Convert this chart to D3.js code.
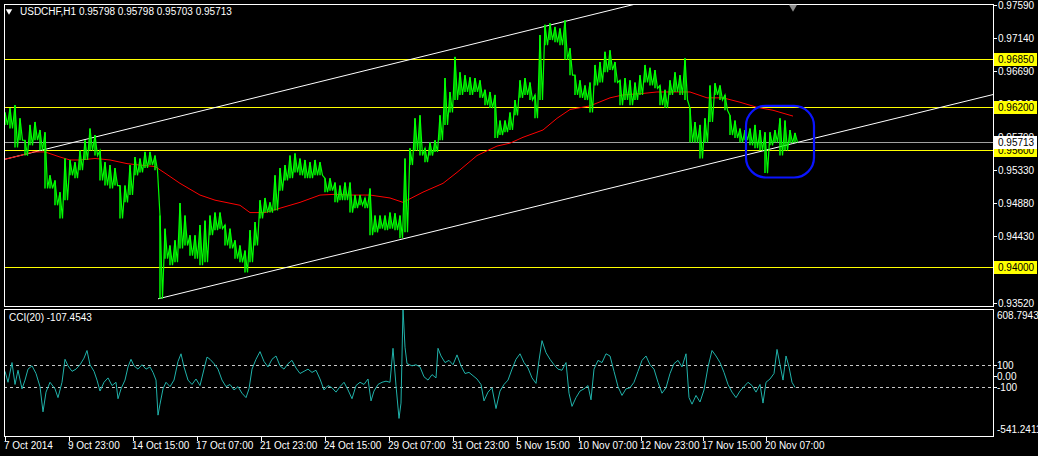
<!DOCTYPE html>
<html><head><meta charset="utf-8">
<script src="https://cdn.jsdelivr.net/npm/d3@7/dist/d3.min.js"></script>
<style>html,body{margin:0;padding:0;background:#000;}svg{display:block;}</style>
</head><body>
<script>
// ---------- data ----------
const symbolTitle = "USDCHF,H1  0.95798 0.95798 0.95703 0.95713";
const cciTitle = "CCI(20) -107.4543";
// price samples (every 5 hourly bars): bar index, high, low
const priceBars = d3.range(0, 795, 5);
const priceHigh = [0.9612,0.9618,0.9622,0.9604,0.9574,0.9595,0.9599,0.9588,0.9585,0.9526,
0.9519,0.9503,0.9549,0.9547,0.9544,0.9560,0.9574,0.9590,0.9581,0.9560,
0.9544,0.9540,0.9536,0.9512,0.9512,0.9540,0.9551,0.9549,0.9558,0.9558,
0.9553,0.9471,0.9453,0.9430,0.9437,0.9488,0.9471,0.9444,0.9444,0.9458,
0.9464,0.9471,0.9475,0.9475,0.9458,0.9453,0.9437,0.9430,0.9423,0.9451,
0.9462,0.9492,0.9495,0.9489,0.9526,0.9536,0.9540,0.9553,0.9556,0.9549,
0.9547,0.9544,0.9547,0.9544,0.9522,0.9522,0.9516,0.9512,0.9516,0.9516,
0.9499,0.9499,0.9495,0.9508,0.9471,0.9471,0.9471,0.9475,0.9474,0.9471,
0.9549,0.9563,0.9604,0.9608,0.9563,0.9571,0.9574,0.9608,0.9659,0.9640,
0.9688,0.9667,0.9663,0.9660,0.9659,0.9656,0.9643,0.9640,0.9636,0.9601,
0.9601,0.9612,0.9629,0.9656,0.9659,0.9653,0.9636,0.9718,0.9732,0.9734,
0.9729,0.9727,0.9738,0.9700,0.9663,0.9656,0.9649,0.9653,0.9677,0.9681,
0.9695,0.9697,0.9681,0.9656,0.9659,0.9656,0.9653,0.9663,0.9677,0.9673,
0.9670,0.9649,0.9643,0.9656,0.9667,0.9663,0.9686,0.9618,0.9599,0.9595,
0.9604,0.9649,0.9652,0.9649,0.9636,0.9608,0.9601,0.9590,0.9588,0.9590,
0.9595,0.9588,0.9585,0.9585,0.9588,0.9604,0.9601,0.9588,0.9584];
const priceLow = [0.9595,0.9590,0.9564,0.9574,0.9553,0.9567,0.9574,0.9560,0.9508,0.9508,
0.9485,0.9467,0.9492,0.9526,0.9522,0.9533,0.9547,0.9560,0.9553,0.9519,
0.9512,0.9508,0.9512,0.9467,0.9489,0.9499,0.9526,0.9530,0.9536,0.9540,
0.9533,0.9357,0.9412,0.9403,0.9407,0.9426,0.9430,0.9416,0.9412,0.9403,
0.9407,0.9444,0.9451,0.9453,0.9430,0.9426,0.9412,0.9407,0.9393,0.9407,
0.9430,0.9467,0.9475,0.9475,0.9478,0.9505,0.9519,0.9522,0.9530,0.9526,
0.9522,0.9522,0.9526,0.9526,0.9503,0.9505,0.9489,0.9492,0.9492,0.9475,
0.9481,0.9485,0.9481,0.9444,0.9448,0.9453,0.9451,0.9453,0.9451,0.9440,
0.9448,0.9540,0.9560,0.9553,0.9544,0.9553,0.9558,0.9574,0.9595,0.9612,
0.9629,0.9636,0.9640,0.9636,0.9640,0.9632,0.9622,0.9618,0.9577,0.9581,
0.9585,0.9588,0.9608,0.9632,0.9636,0.9629,0.9604,0.9629,0.9704,0.9711,
0.9708,0.9704,0.9684,0.9663,0.9636,0.9632,0.9629,0.9612,0.9649,0.9653,
0.9667,0.9670,0.9653,0.9622,0.9629,0.9622,0.9629,0.9636,0.9653,0.9649,
0.9645,0.9622,0.9618,0.9636,0.9640,0.9636,0.9629,0.9571,0.9571,0.9549,
0.9571,0.9599,0.9636,0.9629,0.9615,0.9581,0.9577,0.9571,0.9574,0.9567,
0.9563,0.9560,0.9529,0.9567,0.9571,0.9553,0.9560,0.9570,0.9571];
// moving average (red)
const maBars = [0,15,28,40,55,65,75,90,105,122,135,150,160,175,195,210,235,245,260,275,295,315,330,345,365,385,398,418,438,452,472,492,505,518,538,552,565,585,605,618,638,652,672,685,702,718,735,752,768,788];
const maValues = [0.9548,0.9553,0.9558,0.9558,0.9551,0.9547,0.9547,0.9549,0.9547,0.9542,0.9540,0.9538,0.9529,0.9515,0.9499,0.9492,0.9485,0.9475,0.9475,0.9481,0.9489,0.9499,0.9500,0.9499,0.9499,0.9495,0.9489,0.9503,0.9515,0.9530,0.9553,0.9566,0.9570,0.9578,0.9588,0.9604,0.9616,0.9621,0.9632,0.9636,0.9638,0.9640,0.9640,0.9640,0.9632,0.9632,0.9626,0.9619,0.9615,0.9607];
// horizontal levels
const levelPrices = [0.9685, 0.9620, 0.9560, 0.9400];
const lastPrice = 0.95713;
// channel lines (bar, price anchors)
const upperBars = [0, 395];
const upperPrices = [0.9548, 0.9681];
const lowerBars = [153, 395];
const lowerPrices = [0.9357, 0.9438];
// highlighted zone (blue rounded box)
const zoneBars = [741, 809];
const zonePrices = [0.9621, 0.9523];
// price axis ticks
const priceTicks = [0.9759, 0.9714, 0.9669, 0.9624, 0.9579, 0.9533, 0.9488, 0.9443, 0.9397, 0.9352];
// CCI(20)
const cciBars = [0,3,7,10,13,17,20,23,27,31,35,38,41,45,50,53,57,60,63,67,71,75,79,82,85,89,92,95,99,103,107,111,113,116,120,123,126,129,133,137,141,145,148,151,153,155,158,161,165,169,173,176,179,183,187,191,195,199,202,205,209,213,217,221,225,229,233,237,241,244,247,251,255,259,263,267,271,275,279,283,287,291,295,299,303,307,311,315,319,323,327,331,335,339,343,347,351,355,359,363,366,369,373,377,381,385,388,391,394,396,398,400,402,407,411,415,419,423,427,431,433,436,440,444,448,452,456,460,464,468,472,476,479,483,487,491,495,499,503,507,511,515,519,523,527,531,534,537,541,545,549,553,557,561,564,567,571,575,579,583,586,589,593,597,601,605,609,613,617,621,625,629,633,637,641,645,649,653,657,661,665,669,673,677,681,684,687,691,695,699,703,707,711,715,719,723,727,731,735,739,743,747,751,755,758,761,765,769,772,775,778,781,784,787,790];
const cciValues = [40,-60,120,-80,50,-120,-40,60,90,20,-100,-330,-150,-60,-120,-200,-60,150,90,40,60,100,160,230,100,40,-40,-140,-60,-20,-90,-60,-210,-120,-40,80,150,90,60,100,60,80,30,-40,-360,-260,-120,-60,-100,-40,130,200,80,-40,-80,-30,-90,60,170,150,110,60,-40,-100,-80,-130,-100,-160,-200,-120,60,150,220,130,80,150,180,90,60,110,140,70,20,40,60,30,50,-30,-130,-90,-110,-150,-100,-60,-130,-210,-90,-60,-80,-30,-230,-140,-80,-60,-50,-60,250,-90,-390,-250,608.79,260,110,90,100,80,-10,-40,10,-20,250,180,120,140,100,190,90,20,30,0,-30,-80,-230,-150,-110,-300,-140,-80,-40,60,150,200,120,70,-20,-70,140,320,210,150,100,60,50,120,-160,-280,-200,-140,-120,-90,-220,60,140,120,200,180,40,-100,-180,-120,-110,-60,40,140,180,100,60,-60,-160,-110,20,110,140,80,200,-200,-260,-180,-240,-130,80,230,180,120,30,-80,-150,-200,-140,-100,-60,-90,-150,-80,-250,-60,-30,20,240,100,-40,180,80,-60,-107.45];
const cciLevels = [100, -100];
const cciTicks = [608.7943, 100, 0, -100, -541.2411];
// time axis
const timeTickBars = [0, 64, 128, 192, 256, 320, 384, 448, 512, 574, 636, 698, 761];
const timeTickLabels = ["7 Oct 2014","9 Oct 23:00","14 Oct 15:00","17 Oct 07:00","21 Oct 23:00","24 Oct 15:00","29 Oct 07:00","31 Oct 23:00","5 Nov 15:00","10 Nov 07:00","12 Nov 23:00","17 Nov 15:00","20 Nov 07:00"];

// ---------- layout ----------
const W = 1038, H = 456;
const L = 4, R = 993, mainTop = 4, mainBottom = 306, cciTop = 309, cciBottom = 436;
const FONT = "'Liberation Sans', Arial, sans-serif";

const svg = d3.select("body").append("svg").attr("width", W).attr("height", H)
  .style("background", "#000").style("font-family", FONT).style("font-size", "10px");

const x = d3.scaleLinear().domain([0, 988]).range([5, 993]);
const y = d3.scaleLinear().domain([0.9352, 0.9759]).range([302.5, 5]);
const yc = d3.scaleLinear().domain([-541.2411, 608.7943]).range([435, 309]);

const defs = svg.append("defs");
defs.append("clipPath").attr("id", "clipMain").append("rect")
  .attr("x", L).attr("y", mainTop).attr("width", R - L).attr("height", mainBottom - mainTop);
defs.append("clipPath").attr("id", "clipCci").append("rect")
  .attr("x", L).attr("y", cciTop).attr("width", R - L).attr("height", cciBottom - cciTop);

const gMain = svg.append("g").attr("clip-path", "url(#clipMain)");
const gCci = svg.append("g").attr("clip-path", "url(#clipCci)");

// horizontal levels
gMain.selectAll("line.level").data(levelPrices).join("line").attr("class", "level")
  .attr("x1", L).attr("x2", R).attr("y1", d => Math.round(y(d)) + 0.5).attr("y2", d => Math.round(y(d)) + 0.5)
  .attr("stroke", "#ffff00").attr("stroke-width", 1).attr("shape-rendering", "crispEdges");
// last price line
gMain.append("line").attr("x1", L).attr("x2", R)
  .attr("y1", Math.round(y(lastPrice)) + 0.5).attr("y2", Math.round(y(lastPrice)) + 0.5)
  .attr("stroke", "#a0a0a0").attr("stroke-width", 1).attr("shape-rendering", "crispEdges");

// channel lines, extended across the chart
function extend(bars, prices, fromBar, toBar) {
  const s = (prices[1] - prices[0]) / (bars[1] - bars[0]);
  return [[fromBar, prices[0] + (fromBar - bars[0]) * s], [toBar, prices[0] + (toBar - bars[0]) * s]];
}
const chLine = d3.line().x(d => x(d[0])).y(d => y(d[1]));
gMain.append("path").attr("d", chLine(extend(upperBars, upperPrices, upperBars[0], 988)))
  .attr("fill", "none").attr("stroke", "#ffffff").attr("stroke-width", 1);
gMain.append("path").attr("d", chLine(extend(lowerBars, lowerPrices, lowerBars[0], 988)))
  .attr("fill", "none").attr("stroke", "#ffffff").attr("stroke-width", 1);

// moving average
gMain.append("path")
  .attr("d", d3.line().x((d, i) => x(maBars[i])).y(d => y(d))(maValues))
  .attr("fill", "none").attr("stroke", "#ff0000").attr("stroke-width", 1);

// price bars (high-low) and zigzag path
const zig = [];
priceBars.forEach((b, i) => {
  zig.push([b, priceHigh[i]]);
  zig.push([b + 2.5, priceLow[i]]);
});
gMain.append("path").attr("d", chLine(zig))
  .attr("fill", "none").attr("stroke", "#00ff00").attr("stroke-width", 1.2);
gMain.selectAll("line.bar").data(priceBars).join("line").attr("class", "bar")
  .attr("x1", d => x(d)).attr("x2", d => x(d))
  .attr("y1", (d, i) => y(priceHigh[i])).attr("y2", (d, i) => y(priceLow[i]))
  .attr("stroke", "#00ff00").attr("stroke-width", 1.5);

// highlighted zone
gMain.append("rect")
  .attr("x", x(zoneBars[0])).attr("y", y(zonePrices[0]))
  .attr("width", x(zoneBars[1]) - x(zoneBars[0])).attr("height", y(zonePrices[1]) - y(zonePrices[0]))
  .attr("rx", 20).attr("ry", 20)
  .attr("fill", "none").attr("stroke", "#0a14ff").attr("stroke-width", 2.2);

// CCI
gCci.selectAll("line.lvl").data(cciLevels).join("line").attr("class", "lvl")
  .attr("x1", L).attr("x2", R).attr("y1", d => Math.round(yc(d)) + 0.5).attr("y2", d => Math.round(yc(d)) + 0.5)
  .attr("stroke", "#c8c8c8").attr("stroke-dasharray", "3,3").attr("shape-rendering", "crispEdges");
gCci.append("path")
  .attr("d", d3.line().x((d, i) => x(cciBars[i])).y(d => yc(d))(cciValues))
  .attr("fill", "none").attr("stroke", "#20b2aa").attr("stroke-width", 1);

// panel frames
svg.append("rect").attr("x", L + 0.5).attr("y", mainTop + 0.5).attr("width", R - L).attr("height", mainBottom - mainTop)
  .attr("fill", "none").attr("stroke", "#ffffff").attr("shape-rendering", "crispEdges");
svg.append("rect").attr("x", L + 0.5).attr("y", cciTop + 0.5).attr("width", R - L).attr("height", cciBottom - cciTop)
  .attr("fill", "none").attr("stroke", "#ffffff").attr("shape-rendering", "crispEdges");

// title texts
svg.append("path").attr("d", d3.symbol().type(d3.symbolTriangle).size(18)())
  .attr("transform", "translate(9,11) rotate(180)").attr("fill", "#ffffff");
svg.append("text").attr("x", 20).attr("y", 15).attr("fill", "#ffffff").text(symbolTitle);
svg.append("text").attr("x", 9).attr("y", 321).attr("fill", "#ffffff").text(cciTitle);
// shift marker
svg.append("path").attr("d", d3.symbol().type(d3.symbolTriangle).size(28)())
  .attr("transform", `translate(${x(788)},7) rotate(180)`).attr("fill", "#8c8c8c");

// price axis
const pa = svg.append("g");
pa.selectAll("line").data(priceTicks).join("line")
  .attr("x1", R).attr("x2", R + 4).attr("y1", d => Math.round(y(d)) + 0.5).attr("y2", d => Math.round(y(d)) + 0.5)
  .attr("stroke", "#ffffff").attr("shape-rendering", "crispEdges");
pa.selectAll("text").data(priceTicks).join("text")
  .attr("x", R + 5).attr("y", d => y(d) + 4).attr("fill", "#ffffff").text(d => d.toFixed(5));
// level price boxes
const boxes = svg.append("g");
levelPrices.forEach(p => {
  const cy = Math.round(y(p));
  boxes.append("rect").attr("x", R + 1).attr("y", cy - 6).attr("width", 43).attr("height", 13).attr("fill", "#ffff00");
  boxes.append("text").attr("x", R + 5).attr("y", cy + 4).attr("fill", "#000").text(p.toFixed(5));
});
{
  const cy = Math.round(y(lastPrice));
  boxes.append("rect").attr("x", R + 1).attr("y", cy - 6).attr("width", 43).attr("height", 13).attr("fill", "#ffffff");
  boxes.append("text").attr("x", R + 5).attr("y", cy + 4).attr("fill", "#000").text(lastPrice.toFixed(5));
}

// CCI axis
const ca = svg.append("g");
ca.selectAll("line").data(cciTicks.slice(1, 4)).join("line")
  .attr("x1", R).attr("x2", R + 4).attr("y1", d => Math.round(yc(d)) + 0.5).attr("y2", d => Math.round(yc(d)) + 0.5)
  .attr("stroke", "#ffffff").attr("shape-rendering", "crispEdges");
ca.selectAll("text").data(cciTicks).join("text")
  .attr("x", R + 4)
  .attr("y", (d, i) => i === 0 ? yc(d) + 10 : (i === 4 ? yc(d) - 2 : yc(d) + 4))
  .attr("fill", "#ffffff")
  .text(d => d === 0 ? "0.00" : (Math.abs(d) === 100 ? String(d) : d.toFixed(4)));

// time axis
const ta = svg.append("g");
ta.selectAll("line").data(timeTickBars).join("line")
  .attr("x1", d => Math.round(x(d)) + 0.5).attr("x2", d => Math.round(x(d)) + 0.5)
  .attr("y1", cciBottom).attr("y2", cciBottom + 5).attr("stroke", "#ffffff").attr("shape-rendering", "crispEdges");
ta.selectAll("text").data(timeTickBars).join("text")
  .attr("x", d => x(d) - 1).attr("y", 449).attr("fill", "#ffffff")
  .text((d, i) => timeTickLabels[i]);
</script>
</body></html>
